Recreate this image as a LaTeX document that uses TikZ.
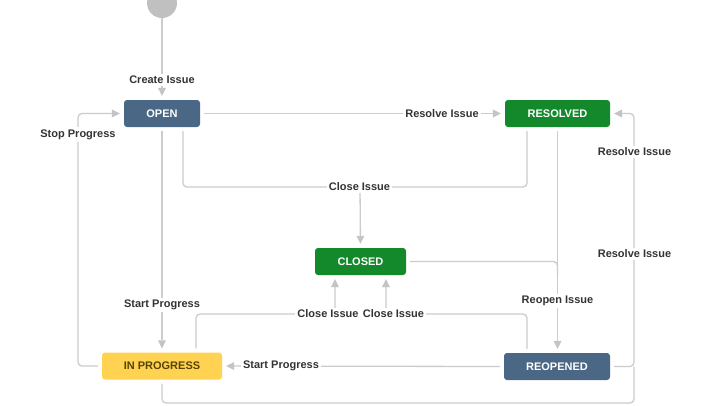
\documentclass[tikz,border=0pt]{standalone}
\usepackage{fontspec}
\setmainfont{Liberation Sans}
\usetikzlibrary{arrows.meta}
\definecolor{jblue}{HTML}{4A6785}
\definecolor{jgreen}{HTML}{14892C}
\definecolor{jyellow}{HTML}{FFD351}
\definecolor{jytext}{HTML}{594300}
\definecolor{lbltext}{HTML}{333333}
\definecolor{linegray}{HTML}{CCCCCC}
\definecolor{tipgray}{HTML}{C4C4C4}
\definecolor{startgray}{HTML}{C0C0C0}
\tikzset{
  statebox/.style={rounded corners=3pt, minimum height=27pt, inner sep=0pt,
    font=\fontsize{11}{13}\selectfont\bfseries, text=white},
  conn/.style={draw=linegray, line width=1.3pt, rounded corners=4pt,
    shorten <=4pt},
  arr/.style={conn, shorten >=4pt, -{Triangle[length=8pt,width=8pt,fill=tipgray,line width=0pt]}},
  lbl/.style={fill=white, inner sep=2pt, text=lbltext,
    font=\fontsize{11}{13}\selectfont\bfseries},
}
\begin{document}
\begin{tikzpicture}[x=1pt,y=-1pt]
\useasboundingbox (0,0) rectangle (720,405);
\clip (0,0) rectangle (720,405);
\fill[white] (0,0) rectangle (720,405);

% start
\node[circle, fill=startgray, minimum size=30pt, inner sep=0pt] (start) at (162,3) {};

% states
\node[statebox, fill=jblue, minimum width=76pt] (open) at (162,113.5) {OPEN};
\node[statebox, fill=jgreen, minimum width=105pt] (resolved) at (557.5,113.5) {RESOLVED};
\node[statebox, fill=jgreen, minimum width=91pt] (closed) at (360.5,261.5) {CLOSED};
\node[statebox, fill=jyellow, text=jytext, minimum width=120pt] (inprog) at (162,366) {IN PROGRESS};
\node[statebox, fill=jblue, minimum width=106pt] (reopened) at (557,366.5) {REOPENED};

% helper coordinates
\coordinate (c1) at (183,187);
\coordinate (c2) at (527,187);
\coordinate (c3) at (360,187);
\coordinate (c5) at (78,0);
\coordinate (j7) at (557.5,276);
\coordinate (c8) at (634,0);
\coordinate (c9) at (162,403);
\coordinate (c10a) at (196,314);
\coordinate (c10b) at (335,314);
\coordinate (c11a) at (527,314);
\coordinate (c11b) at (386,314);

% connectors
\draw[arr, shorten <=0pt] (start) -- (open);
\draw[arr] (open.east) -- (resolved.west);
\draw[conn, shorten >=4pt] (c1 |- open.south) -- (c1) -- (c2) -- (c2 |- resolved.south);
\draw[arr, shorten <=0pt] (c3) -- (closed.north);
\draw[arr] (open.south) -- (inprog.north);
\draw[arr] (inprog.west) -- (c5 |- inprog.west) -- (c5 |- open.west) -- (open.west);
\draw[arr] (resolved.south) -- (resolved.south |- reopened.north);
\draw[conn] (closed.east) -| (j7);
\draw[arr] (reopened.east) -- (c8 |- reopened.east) -- (c8 |- resolved.east) -- (resolved.east);
\draw[conn, shorten >=0pt] (inprog.south) -- (c9) -- (c8 |- c9) -- (c8 |- reopened.east);
\draw[arr] (reopened.west) -- (inprog.east);
\draw[arr] (c10a |- inprog.north) -- (c10a) -- (c10b) -- (c10b |- closed.south);
\draw[arr] (c11a |- reopened.north) -- (c11a) -- (c11b) -- (c11b |- closed.south);

% labels
\node[lbl] (lcreate) at (162,80) {Create Issue};
\node[lbl] (lresolve1) at (442,113.5) {Resolve Issue};
\node[lbl] (lclose1) at (359.5,187) {Close Issue};
\node[lbl] (lstart1) at (162,305) {Start Progress};
\node[lbl] (lstop) at (78,134.5) {Stop Progress};
\node[lbl] (lreopen) at (557.5,301) {Reopen Issue};
\node[lbl] (lresolve2) at (634.5,152) {Resolve Issue};
\node[lbl] (lresolve3) at (634.5,254) {Resolve Issue};
\node[lbl] (lstart2) at (281,366) {Start Progress};
\node[lbl] (lclose2) at (328,314) {Close Issue};
\node[lbl] (lclose3) at (393.5,314) {Close Issue};
\end{tikzpicture}
\end{document}
